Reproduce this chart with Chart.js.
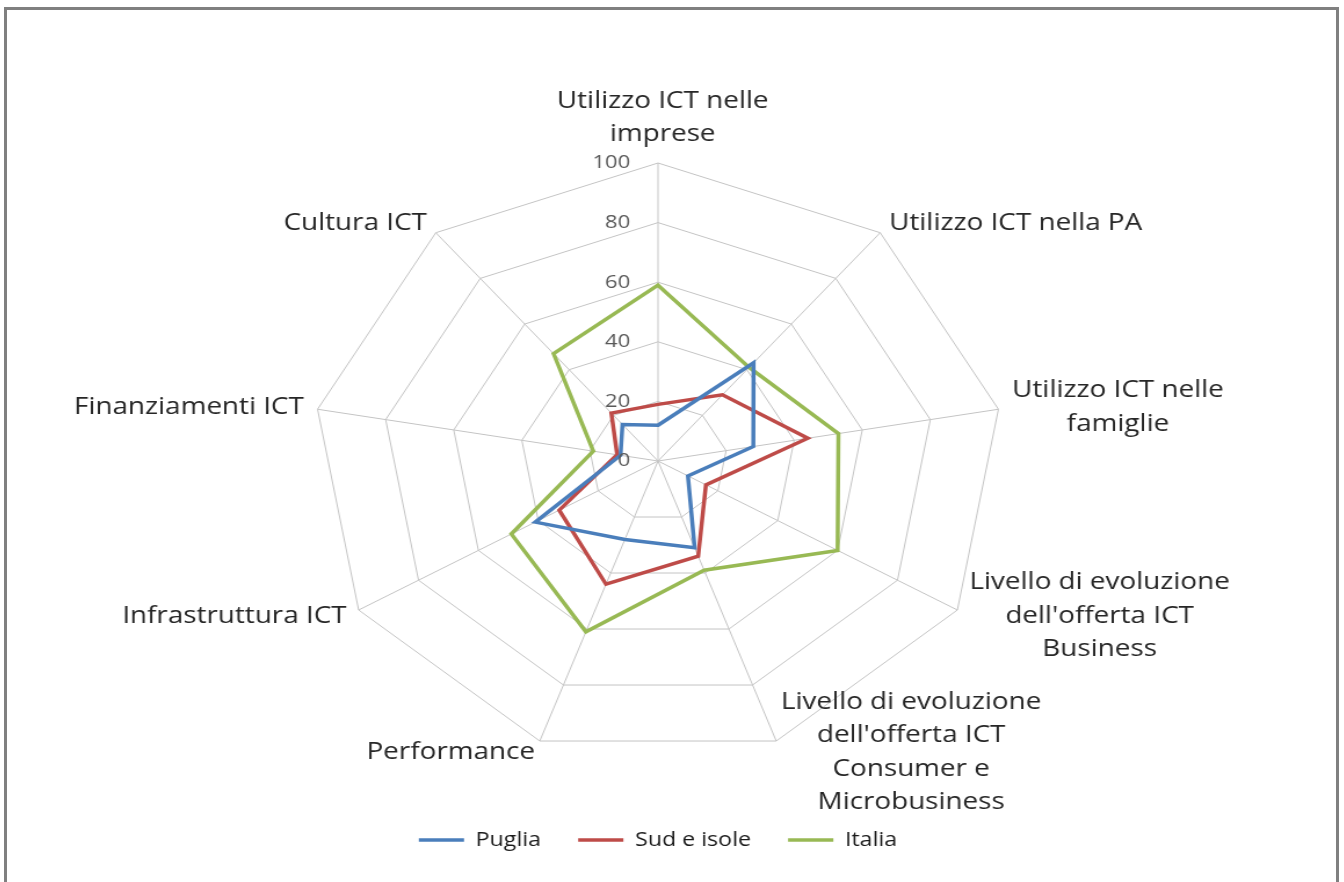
<!DOCTYPE html>
<html>
<head>
<meta charset="utf-8">
<script src="https://cdn.jsdelivr.net/npm/chart.js@4.4.1/dist/chart.umd.min.js"></script>
<style>
  html, body { margin: 0; padding: 0; background: #fff; overflow: hidden; }
  body { width: 1344px; height: 882px; position: relative; }
  #frame {
    position: absolute; left: 4px; top: 7px; width: 1329px; height: 900px;
    border: 3px solid #808080; box-sizing: content-box;
  }
  /* the original picture is stretched sideways, so is this */
  #wrap {
    position: absolute; left: 0; top: 0; width: 1316px; height: 882px;
    transform: scaleX(1.16); transform-origin: 658px 0;
  }
</style>
</head>
<body>
<div id="frame"></div>
<div id="wrap"><canvas id="chart"></canvas></div>
<script>
'use strict';

const categories = [
    ['Utilizzo ICT nelle', 'imprese'],
    'Utilizzo ICT nella PA',
    ['Utilizzo ICT nelle', 'famiglie'],
    ['Livello di evoluzione', "dell'offerta ICT", 'Business'],
    ['Livello di evoluzione', "dell'offerta ICT", 'Consumer e', 'Microbusiness'],
    'Performance',
    'Infrastruttura ICT',
    'Finanziamenti ICT',
    'Cultura ICT'
];
const puglia = [12, 43, 28, 10, 31, 28, 41, 11, 16];
const sudIsole = [19, 29, 44, 16, 34, 44, 33, 12, 21];
const italia = [59, 41, 53, 60, 39, 61, 49, 19, 47];
const tickValues = [0, 20, 40, 60, 80, 100];

const FONT = '"Open Sans", "Liberation Sans", sans-serif';

// tick numbers sit left of the top spoke, category labels Excel-style
const axisText = {
    id: 'axisText',
    afterDraw(chart) {
        const r = chart.scales.r;
        const ctx = chart.ctx;
        ctx.save();
        ctx.font = '19px ' + FONT;
        ctx.fillStyle = '#595959';
        ctx.textAlign = 'right';
        ctx.textBaseline = 'middle';
        for (const v of tickValues) {
            ctx.fillText(String(v), r.xCenter - 24, r.yCenter - r.getDistanceFromCenterForValue(v));
        }

        ctx.font = '24px ' + FONT;
        ctx.fillStyle = '#262626';
        ctx.textAlign = 'center';
        const lh = 33.5;
        chart.data.labels.forEach((lbl, i) => {
            const lines = Array.isArray(lbl) ? lbl : [lbl];
            const p = r.getPointPosition(i, r.drawingArea + 12);
            const bw = Math.max(...lines.map(l => ctx.measureText(l).width));
            const bh = lines.length * lh;
            const angle = i * 360 / categories.length;
            let cx, top;
            if (i === 0) {
                cx = p.x + 4;
                top = p.y - bh;
            } else {
                cx = angle < 180 ? p.x + bw / 2 : p.x - bw / 2;
                top = p.y - bh / 2;
            }
            lines.forEach((l, k) => ctx.fillText(l, cx, top + lh * (k + 0.5)));
        });
        ctx.restore();
    }
};

const ctx = document.getElementById('chart').getContext('2d');
const chart = new Chart(ctx, {
    type: 'radar',
    data: {
        labels: categories,
        datasets: [
            { label: 'Puglia', data: puglia, borderColor: '#4a7ebb', backgroundColor: '#4a7ebb', borderWidth: 3.5 },
            { label: 'Sud e isole', data: sudIsole, borderColor: '#be4b48', backgroundColor: '#be4b48', borderWidth: 3.5 },
            { label: 'Italia', data: italia, borderColor: '#98b954', backgroundColor: '#98b954', borderWidth: 3.5 }
        ]
    },
    options: {
        responsive: true,
        maintainAspectRatio: false,
        animation: false,
        devicePixelRatio: 1,
        elements: {
            line: { fill: false, tension: 0 },
            point: { radius: 0, hoverRadius: 0 }
        },
        layout: { padding: { top: 163, bottom: 22, left: 0, right: 0 } },
        scales: {
            r: {
                min: 0,
                max: 100,
                ticks: { stepSize: 20, display: false },
                grid: { color: '#c4c4c4', lineWidth: 1 },
                angleLines: { color: '#c4c4c4', lineWidth: 1 },
                pointLabels: { display: false }
            }
        },
        plugins: {
            legend: {
                position: 'bottom',
                title: { display: true, text: '', font: { size: 10 }, padding: { top: 27, bottom: 0 } },
                labels: {
                    usePointStyle: true,
                    pointStyle: 'line',
                    pointStyleWidth: 39,
                    padding: 32,
                    color: '#1a1a1a',
                    font: { family: FONT, size: 20 }
                }
            },
            tooltip: { enabled: false }
        }
    },
    plugins: [axisText]
});
</script>
</body>
</html>
